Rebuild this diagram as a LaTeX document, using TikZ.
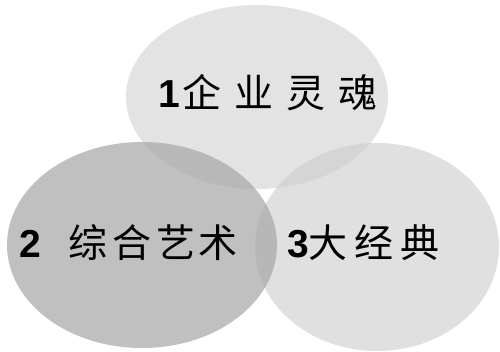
\documentclass[tikz,border=0pt]{standalone}
\usepackage{fontspec}
\setmainfont{Liberation Sans}
\newfontfamily\cjk{Noto Sans CJK SC}
\begin{document}
\begin{tikzpicture}[x=1pt,y=-1pt,
  blob/.style={draw=none},
  lbl/.style={font=\fontsize{39}{44}\selectfont, text=black, inner sep=0pt}]
\useasboundingbox (0,0) rectangle (500,351);
\fill[white] (0,0) rectangle (500,351);
% top ellipse
\fill[blob, fill=gray!22] (257,97) ellipse [x radius=131, y radius=92];
% right ellipse
\fill[blob, fill=gray!40, fill opacity=0.6] (377,247) ellipse [x radius=122, y radius=104];
% left ellipse
\fill[blob, fill=gray!70, fill opacity=0.7] (142,245) ellipse [x radius=135, y radius=103];
\node[lbl, anchor=west] (t1) at (158,93) {\textbf{1}\hspace{3pt}\cjk 企\hspace{13pt}业\hspace{13pt}灵\hspace{13pt}魂};
\node[lbl, anchor=west] (t2) at (19,243) {\textbf{2}\hspace{28pt}\cjk 综\hspace{5pt}合\hspace{5pt}艺\hspace{3pt}术};
\node[lbl, anchor=west] (t3) at (287,243) {\textbf{3}\cjk 大\hspace{7pt}经\hspace{7pt}典};
\end{tikzpicture}
\end{document}
